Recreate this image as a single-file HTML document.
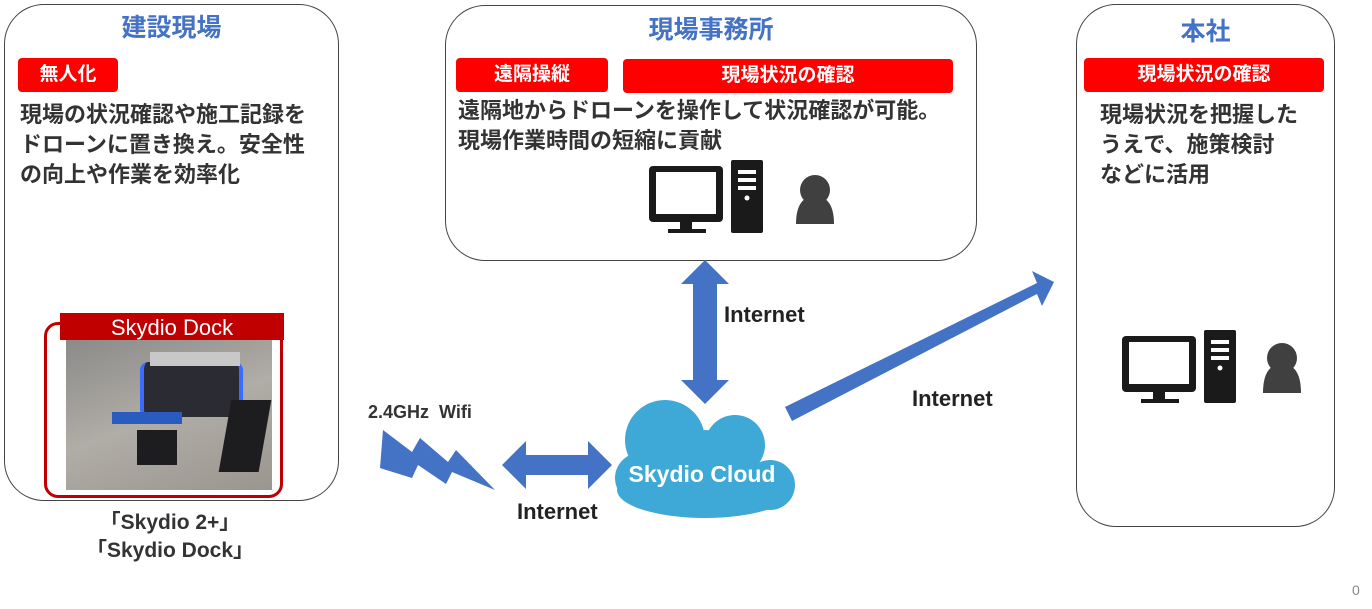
<!DOCTYPE html>
<html><head><meta charset="utf-8"><style>
body{margin:0;width:1372px;height:609px;background:#fff;position:relative;overflow:hidden;font-family:"Liberation Sans","Noto Sans CJK JP",sans-serif;}
.box{position:absolute;border:1.5px solid #444;border-radius:40px;background:#fff;}
.t{position:absolute;font-weight:bold;white-space:nowrap;}
.title{color:#4472c4;font-size:25px;text-align:center;}
.red{position:absolute;background:#ff0000;color:#fff;font-weight:bold;font-size:19px;text-align:center;border-radius:4px;line-height:34px;height:34px;}
.body{color:#333;font-size:22px;line-height:30px;}
</style></head><body>
<div class="box" style="left:4px;top:4px;width:333px;height:495px;"></div>
<div class="box" style="left:445px;top:5px;width:530px;height:254px;"></div>
<div class="box" style="left:1076px;top:4px;width:257px;height:521px;"></div>

<div class="t title" style="left:4px;top:8px;width:335px;">建設現場</div>
<div class="t title" style="left:445px;top:10px;width:532px;">現場事務所</div>
<div class="t title" style="left:1076px;top:12px;width:259px;">本社</div>

<div class="red" style="left:18px;top:58px;width:100px;">無人化</div>
<div class="red" style="left:456px;top:58px;width:152px;">遠隔操縦</div>
<div class="red" style="left:623px;top:59px;width:330px;">現場状況の確認</div>
<div class="red" style="left:1084px;top:58px;width:240px;">現場状況の確認</div>

<div class="t body" style="left:20px;top:100px;">現場の状況確認や施工記録を<br>ドローンに置き換え。安全性<br>の向上や作業を効率化</div>
<div class="t body" style="left:458px;top:96px;">遠隔地からドローンを操作して状況確認が可能。<br>現場作業時間の短縮に貢献</div>
<div class="t body" style="left:1100px;top:100px;">現場状況を把握した<br>うえで、施策検討<br>などに活用</div>

<!-- photo -->
<div style="position:absolute;left:44px;top:322px;width:233px;height:170px;border:3.5px solid #c00000;border-radius:14px;"></div>
<div style="position:absolute;left:66px;top:338px;width:206px;height:152px;background:linear-gradient(160deg,#8a8a88,#b0aca6 50%,#9a968f);"></div>
<div style="position:absolute;left:140px;top:362px;width:95px;height:55px;background:#2b2b33;border-radius:8px;border-left:4px solid #3a6cff;border-right:4px solid #3a6cff;"></div>
<div style="position:absolute;left:150px;top:352px;width:90px;height:14px;background:#c8c8c8;"></div>
<div style="position:absolute;left:225px;top:400px;width:40px;height:72px;background:#1d1d1f;transform:skewX(-10deg);"></div>
<div style="position:absolute;left:137px;top:430px;width:40px;height:35px;background:#1d1d1f;"></div>
<div style="position:absolute;left:112px;top:412px;width:70px;height:12px;background:#2a5bbf;"></div>
<div style="position:absolute;left:60px;top:313px;width:224px;height:27px;background:#c00000;color:#fff;font-size:22px;text-align:center;line-height:29px;">Skydio Dock</div>

<div class="t" style="left:0;top:509px;width:340px;text-align:center;font-size:21px;color:#333;line-height:28px;">「Skydio 2+」<br>「Skydio Dock」</div>

<svg width="1372" height="609" style="position:absolute;left:0;top:0">
<g fill="#4472c4">
<polygon points="705,260 729,284 717,284 717,380 729,380 705,404 681,380 693,380 693,284 681,284"/>
<polygon points="502,465 526,441 526,455 588,455 588,441 612,465 588,489 588,475 526,475 526,489"/>
<polygon points="785,407 1037,283 1032,271 1054,282 1042,306 1037,294 792,421"/>
<polygon points="383,430 412,452 420,438 448,462 456,450 495,490 452,472 446,484 418,465 412,478 380,468"/>
</g>
<g fill="#3ea8d6">
<ellipse cx="705" cy="490" rx="88" ry="28"/>
<circle cx="665" cy="440" r="40"/>
<circle cx="735" cy="445" r="30"/>
<circle cx="640" cy="478" r="25"/>
<circle cx="770" cy="485" r="25"/>
<circle cx="705" cy="470" r="40"/>
</g>
<text x="702" y="482" text-anchor="middle" fill="#fff" font-size="23" font-weight="bold" font-family="Liberation Sans,sans-serif">Skydio Cloud</text>
<g font-family="Liberation Sans,sans-serif" font-weight="bold" fill="#222">
<text x="724" y="322" font-size="22">Internet</text>
<text x="912" y="406" font-size="22">Internet</text>
<text x="517" y="519" font-size="22">Internet</text>
<text x="368" y="418" font-size="18" fill="#333" xml:space="preserve">2.4GHz  Wifi</text>
<text x="1352" y="595" font-size="14" font-weight="normal" fill="#888">0</text>
</g>
<g id="pc" fill="#1a1a1a">
<rect x="649" y="166" width="74" height="56" rx="4"/>
<rect x="656" y="172" width="60" height="42" fill="#fff"/>
<rect x="680" y="222" width="12" height="8"/>
<rect x="668" y="229" width="38" height="4"/>
<rect x="731" y="160" width="32" height="73" rx="2"/>
<rect x="738" y="170" width="18" height="4" fill="#fff"/>
<rect x="738" y="178" width="18" height="4" fill="#fff"/>
<rect x="738" y="186" width="18" height="4" fill="#fff"/>
<circle cx="747" cy="198" r="2.5" fill="#fff"/>
</g>
<g fill="#404040">
<circle cx="815" cy="190" r="15"/>
<path d="M796,224 C796,205 803,196 815,196 C827,196 834,205 834,224 Z"/>
</g>
<use href="#pc" x="473" y="170"/>
<g fill="#404040">
<circle cx="1282" cy="358" r="15"/>
<path d="M1263,393 C1263,373 1270,364 1282,364 C1294,364 1301,373 1301,393 Z"/>
</g>
</svg>
</body></html>
